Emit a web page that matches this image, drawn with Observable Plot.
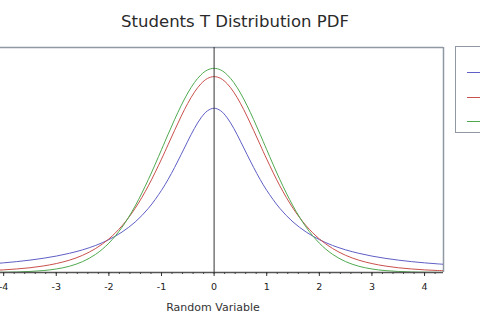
<!DOCTYPE html>
<html>
<head>
<meta charset="utf-8">
<script src="https://cdn.jsdelivr.net/npm/d3@7"></script>
<script src="https://cdn.jsdelivr.net/npm/@observablehq/plot@0.6"></script>
<style>
  html, body { margin: 0; padding: 0; background: #fff; }
  body { width: 480px; height: 320px; overflow: hidden; position: relative; font-family: "DejaVu Sans", Verdana, sans-serif; }
  #title { position: absolute; left: 0; top: 12px; width: 470px; text-align: center; font-size: 16.5px; color: #2a2a2a; }
  #xlabel { position: absolute; left: 113px; top: 301px; width: 200px; text-align: center; font-size: 11px; color: #333; }
  #legend { position: absolute; left: 455px; top: 46px; width: 60px; height: 87px; border: 1px solid #8f98a3; box-sizing: border-box; }
  .sw { position: absolute; left: 11px; width: 40px; height: 0; border-top: 1px solid; }
  #chart { position: absolute; left: 0; top: 0; }
</style>
</head>
<body>
<div id="chart"></div>
<div id="title">Students T Distribution PDF</div>
<div id="xlabel">Random Variable</div>
<div id="legend"></div>
<script>
// Sample positions along the x axis
const xs = [-4.5,-4.25,-4,-3.75,-3.5,-3.25,-3,-2.75,-2.5,-2.25,-2,-1.75,-1.5,-1.25,-1,-0.875,-0.75,-0.625,-0.5,-0.375,-0.25,-0.125,0,
            0.125,0.25,0.375,0.5,0.625,0.75,0.875,1,1.25,1.5,1.75,2,2.25,2.5,2.75,3,3.25,3.5,3.75,4,4.25,4.5];
// Density values
const df1 = [0.0150,0.0167,0.0187,0.0211,0.0240,0.0275,0.0318,0.0372,0.0439,0.0525,0.0637,0.0784,0.0979,0.1242,0.1592,0.1803,0.2037,0.2289,0.2546,0.2791,0.2996,0.3134,0.3183,
             0.3134,0.2996,0.2791,0.2546,0.2289,0.2037,0.1803,0.1592,0.1242,0.0979,0.0784,0.0637,0.0525,0.0439,0.0372,0.0318,0.0275,0.0240,0.0211,0.0187,0.0167,0.0150];
const df5 = [0.0030,0.0039,0.0051,0.0069,0.0092,0.0126,0.0173,0.0239,0.0333,0.0466,0.0651,0.0905,0.1245,0.1679,0.2197,0.2476,0.2757,0.3029,0.3279,0.3493,0.3657,0.3761,0.3796,
             0.3761,0.3657,0.3493,0.3279,0.3029,0.2757,0.2476,0.2197,0.1679,0.1245,0.0905,0.0651,0.0466,0.0333,0.0239,0.0173,0.0126,0.0092,0.0069,0.0051,0.0039,0.0030];
const df30 = [0.0001,0.0003,0.0005,0.0010,0.0020,0.0037,0.0068,0.0121,0.0211,0.0353,0.0569,0.0877,0.1290,0.1801,0.2380,0.2677,0.2966,0.3237,0.3479,0.3680,0.3831,0.3925,0.3956,
              0.3925,0.3831,0.3680,0.3479,0.3237,0.2966,0.2677,0.2380,0.1801,0.1290,0.0877,0.0569,0.0353,0.0211,0.0121,0.0068,0.0037,0.0020,0.0010,0.0005,0.0003,0.0001];
const seriesNames = ["df = 1", "df = 5", "df = 30"];
const seriesColors = ["#5f5fc6", "#c9504c", "#4fa94f"];
const majorTicks = [-4,-3,-2,-1,0,1,2,3,4];
const minorTicks = [-4,-3.8,-3.6,-3.4,-3.2,-3,-2.8,-2.6,-2.4,-2.2,-2,-1.8,-1.6,-1.4,-1.2,-1,-0.8,-0.6,-0.4,-0.2,0,
                    0.2,0.4,0.6,0.8,1,1.2,1.4,1.6,1.8,2,2.2,2.4,2.6,2.8,3,3.2,3.4,3.6,3.8,4,4.2];
const xDomain = [-4.06, 4.36];
const yDomain = [0, 0.436];

const allSeries = [df1, df5, df30];
const rows = [];
allSeries.forEach((vals, i) => vals.forEach((v, j) => rows.push({x: xs[j], y: v, s: seriesNames[i]})));

const chart = Plot.plot({
  width: 480, height: 320,
  marginLeft: 0, marginRight: 37, marginTop: 47, marginBottom: 48,
  style: {fontFamily: '"DejaVu Sans", Verdana, sans-serif', color: "#333", background: "transparent"},
  x: {domain: xDomain},
  y: {domain: yDomain, axis: null},
  color: {domain: seriesNames, range: seriesColors},
  marks: [
    Plot.ruleY([yDomain[1]], {stroke: "#8f98a3", strokeWidth: 1.5}),
    Plot.ruleX([xDomain[1]], {stroke: "#8f98a3", strokeWidth: 1.5}),
    Plot.line(rows, {x: "x", y: "y", z: "s", stroke: "s", strokeWidth: 1, curve: "catmull-rom", clip: true}),
    Plot.ruleX([0], {stroke: "#333", strokeWidth: 1}),
    Plot.ruleY([0], {stroke: "#555", strokeWidth: 1.5}),
    Plot.axisX({ticks: minorTicks, tickSize: 2, tickFormat: () => "", label: null, stroke: "#444"}),
    Plot.axisX({ticks: majorTicks, tickSize: 4, tickPadding: 7, tickFormat: d => String(d), fontSize: 9.5, label: null, stroke: "#333", fill: "#222"})
  ]
});
document.getElementById("chart").appendChild(chart);

const legend = document.getElementById("legend");
const swatchTops = [25, 50, 74];
seriesColors.forEach((c, i) => {
  const el = document.createElement("div");
  el.className = "sw";
  el.style.top = swatchTops[i] + "px";
  el.style.borderTopColor = c;
  el.title = seriesNames[i];
  legend.appendChild(el);
});
</script>
</body>
</html>
